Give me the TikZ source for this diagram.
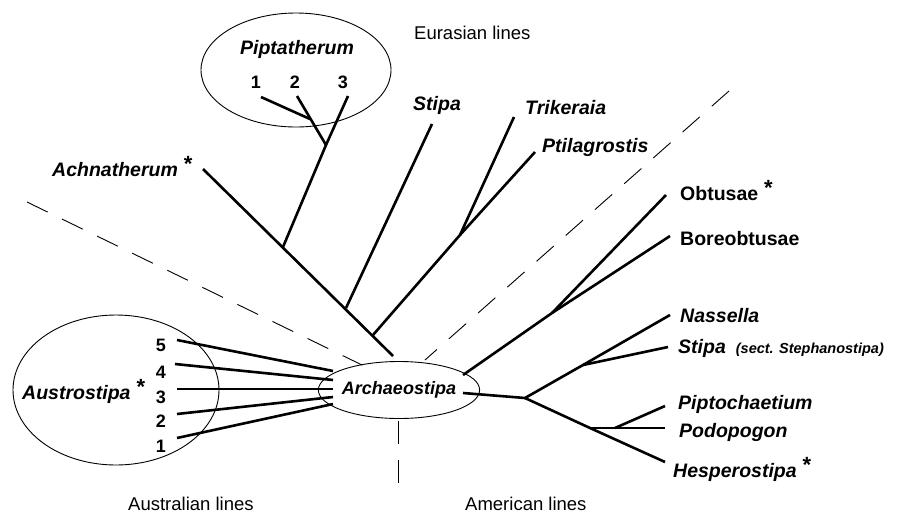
\documentclass[tikz,border=0pt]{standalone}
\usepackage{fontspec}
\setmainfont{Liberation Sans}
\usetikzlibrary{shapes.geometric}
\begin{document}
\begin{tikzpicture}[x=1pt,y=-1pt,
  br/.style={line width=2.6pt},
  thinl/.style={line width=0.9pt},
  dsh/.style={line width=0.9pt, dash pattern=on 23pt off 16pt},
  lab/.style={font=\fontsize{19.5}{21}\selectfont\bfseries\itshape, inner sep=0pt, anchor=base west},
  labu/.style={font=\fontsize{19.5}{21}\selectfont\bfseries, inner sep=0pt, anchor=base west},
  num/.style={font=\fontsize{18}{20}\selectfont\bfseries, inner sep=0pt, anchor=base},
  reg/.style={font=\fontsize{18.5}{20}\selectfont, inner sep=0pt, anchor=base west},
]
\useasboundingbox (0,0) rectangle (900,515);
\newcommand{\stm}{\hspace{6pt}\raisebox{5pt}{\fontsize{22}{22}\selectfont\upshape *}}

% ellipses
\node[draw, thinl, ellipse, minimum width=190pt, minimum height=114pt, inner sep=0pt] (pipell) at (296,70) {};
\node[draw, thinl, ellipse, minimum width=206pt, minimum height=150pt, inner sep=0pt] (ausell) at (116,390) {};
\node[draw, thinl, ellipse, minimum width=118pt, minimum height=57pt, inner sep=0pt,
      font=\fontsize{18}{20}\selectfont\bfseries\itshape] (arch) at (399,390) {Archaeostipa};

% dashed separators
\coordinate (dL1) at (27,202);  \coordinate (dL2) at (362,365);
\coordinate (dR1) at (729,91);  \coordinate (dR2) at (425,360);
\coordinate (dB1) at (398,421); \coordinate (dB2) at (398,484);
\draw[dsh] (dL1) -- (dL2);
\draw[dsh] (dR1) -- (dR2);
\draw[dsh] (dB1) -- (dB2);

% Eurasian branches
\coordinate (A0) at (203,169);   \coordinate (Aroot) at (393,356);
\coordinate (PipB) at (283,247); \coordinate (PipJ) at (326,145);
\coordinate (P3) at (348,96);    \coordinate (P2) at (297,96);
\coordinate (P12) at (310,119);  \coordinate (P1) at (261,97);
\coordinate (StB) at (346,308);  \coordinate (StT) at (432,124);
\coordinate (TPB) at (373,335);  \coordinate (TPJ) at (460,235);
\coordinate (Trik) at (514,117); \coordinate (Ptil) at (535,152);
\draw[br] (A0) -- (Aroot);
\draw[br] (PipB) -- (PipJ) -- (P3);
\draw[br] (PipJ) -- (P2);
\draw[br] (P12) -- (P1);
\draw[br] (StB) -- (StT);
\draw[br] (TPB) -- (TPJ) -- (Ptil);
\draw[br] (TPJ) -- (Trik);

% American branches
\coordinate (O0) at (463,375);  \coordinate (OJ) at (552,313);
\coordinate (Obt) at (666,195); \coordinate (Bor) at (670,236);
\draw[br] (O0) -- (OJ) -- (Bor);
\draw[br] (OJ) -- (Obt);
\coordinate (L0) at (463,393);  \coordinate (LJ) at (525,398);
\coordinate (NJ) at (583,365);  \coordinate (Nas) at (670,315);
\coordinate (StS) at (668,347); \coordinate (PJ) at (590,428);
\coordinate (Hes) at (665,462); \coordinate (Pod) at (665,428);
\coordinate (PPJ) at (615,428); \coordinate (Pip) at (665,406);
\draw[br] (L0) -- (LJ) -- (NJ) -- (Nas);
\draw[br] (NJ) -- (StS);
\draw[br] (LJ) -- (PJ) -- (Hes);
\draw[br] (PJ) -- (Pod);
\draw[br] (PPJ) -- (Pip);

% Australian branches
\coordinate (a5) at (177,340); \coordinate (r5) at (333,371);
\coordinate (a4) at (175,364); \coordinate (r4) at (333,380);
\coordinate (a3) at (177,389); \coordinate (r3) at (333,389);
\coordinate (a2) at (177,414); \coordinate (r2) at (333,397);
\coordinate (a1) at (177,438); \coordinate (r1) at (333,404);
\foreach \i in {1,...,5} {\draw[br] (a\i) -- (r\i);}

% labels
\node[lab, anchor=base] (lpip) at (297,54) {Piptatherum};
\node[num] (n1) at (256,88.5) {1};
\node[num] (n2) at (295,88.5) {2};
\node[num] (n3) at (343,88.5) {3};
\node[lab] (lach) at (52,176) {Achnatherum\stm};
\node[lab] (lsti) at (413,110) {Stipa};
\node[lab] (ltri) at (525,114) {Trikeraia};
\node[lab] (lpti) at (542,152.5) {Ptilagrostis};
\node[reg] (leur) at (414,39.5) {Eurasian lines};
\node[labu] (lobt) at (680,200) {Obtusae\stm};
\node[labu] (lbor) at (680,245) {Boreobtusae};
\node[lab] (lnas) at (680,322) {Nassella};
\node[lab] (lsts) at (678,353) {Stipa\hspace{10pt}{\fontsize{14.5}{16}\selectfont (sect. Stephanostipa)}};
\node[lab] (lpic) at (678,409) {Piptochaetium};
\node[lab] (lpod) at (679,437) {Podopogon};
\node[lab] (lhes) at (673,477) {Hesperostipa\stm};
\node[lab] (laus) at (22,399) {Austrostipa\stm};
\node[num] (m5) at (161,351.5) {5};
\node[num] (m4) at (161,378.5) {4};
\node[num] (m3) at (161,403.5) {3};
\node[num] (m2) at (161,427.5) {2};
\node[num] (m1) at (161,452.5) {1};
\node[reg] (lame) at (465,510) {American lines};
\node[reg] (laut) at (128,510) {Australian lines};
\end{tikzpicture}
\end{document}
